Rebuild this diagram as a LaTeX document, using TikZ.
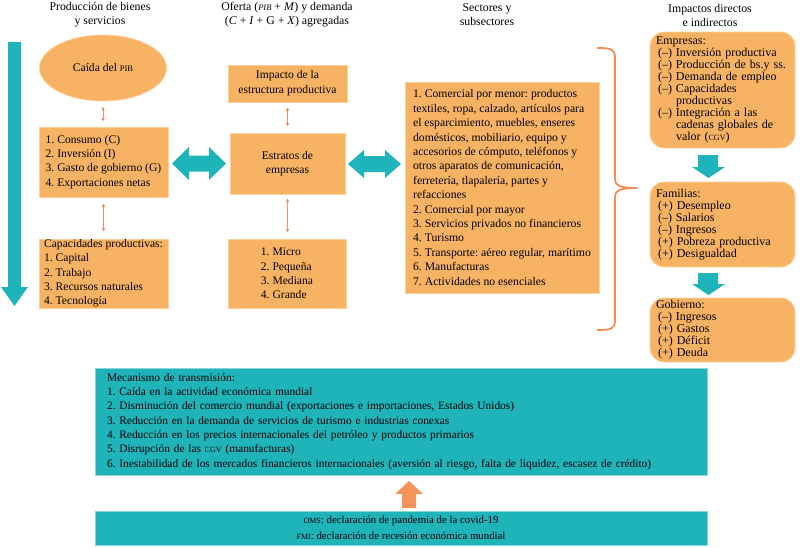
\documentclass[tikz,border=0pt]{standalone}
\usepackage{fontspec}
\setmainfont{Liberation Serif}
\usetikzlibrary{shapes.geometric,arrows.meta}
\definecolor{boxor}{HTML}{F8B264}
\definecolor{boxbd}{HTML}{FBD09A}
\definecolor{tealf}{HTML}{1FB4BA}
\definecolor{tealbd}{HTML}{8CD6D9}
\definecolor{salmon}{HTML}{EF8E62}
\definecolor{brc}{HTML}{F08C55}
\definecolor{uparr}{HTML}{F4945A}
\newcommand{\smc}[1]{{\fontsize{8.5}{8.5}\selectfont #1}}
\newcommand{\smcs}[1]{{\fontsize{8}{8}\selectfont #1}}
\frenchspacing
\begin{document}
\begin{tikzpicture}[x=1pt,y=-1pt,
  hdr/.style={align=center, inner sep=0pt, font=\fontsize{11.8}{14}\selectfont},
  obox/.style={draw=boxbd, line width=0.8pt, fill=boxor, inner sep=0pt, font=\fontsize{11.6}{14.3}\selectfont},
  rbox/.style={obox, rounded corners=14pt, align=left, minimum width=145pt, text width=133pt, font=\fontsize{12}{12}\selectfont},
  tbox/.style={draw=tealbd, line width=0.8pt, fill=tealf, inner sep=0pt},
  fat/.style={fill=tealf},
  thin/.style={salmon, line width=0.8pt, {Latex[length=3.5pt,width=3.5pt]}-{Latex[length=3.5pt,width=3.5pt]}}
]
\useasboundingbox (0,0) rectangle (800,547);

% headers
\node[hdr] (h1) at (100,15) {Producción de bienes\\y servicios};
\node[hdr] (h2) at (287,15) {Oferta (\textit{\smc{PIB}} + \textit{M}) y demanda\\(\textit{C} + \textit{I} + G + \textit{X}) agregadas};
\node[hdr] (h3) at (487,15) {Sectores y\\subsectores};
\node[hdr] (h4) at (710,15) {Impactos directos\\e indirectos};

% left teal arrow
\fill[fat] (8,42) -- (21,42) -- (21,287) -- (28,287) -- (14.5,306) -- (1,287) -- (8,287) -- cycle;

% left column
\node[obox, ellipse, minimum width=127pt, minimum height=66pt] (pib) at (103,68) {Caída del \smc{PIB}};
\node[obox, minimum width=129pt, minimum height=70pt, align=left] (dem) at (103.5,162)
  {1. Consumo (C)\\2. Inversión (I)\\3. Gasto de gobierno (G)\\4. Exportaciones netas};
\node[obox, minimum width=129pt, minimum height=69pt, align=left] (cap) at (103.5,273.5)
  {Capacidades productivas:\\1. Capital\\2. Trabajo\\3. Recursos naturales\\4. Tecnología};

% middle column
\node[obox, minimum width=119pt, minimum height=37pt, align=center, font=\fontsize{11.6}{15}\selectfont] (imp) at (287.5,83.5)
  {Impacto de la\\estructura productiva};
\node[obox, minimum width=115pt, minimum height=61pt, align=center, font=\fontsize{11.6}{14}\selectfont] (est) at (287.5,163.5)
  {Estratos de\\empresas};
\node[obox, minimum width=118pt, minimum height=69pt, align=left] (mic) at (287,273.5)
  {1. Micro\\2. Pequeña\\3. Mediana\\4. Grande};

% sectors
\node[obox, minimum width=194pt, minimum height=211pt, align=left, font=\fontsize{11.7}{14.4}\selectfont] (sec) at (502,187.5)
  {1. Comercial por menor: productos\\
   textiles, ropa, calzado, artículos para\\
   el esparcimiento, muebles, enseres\\
   domésticos, mobiliario, equipo y\\
   accesorios de cómputo, teléfonos y\\
   otros aparatos de comunicación,\\
   ferretería, tlapalería, partes y\\
   refacciones\\
   2. Comercial por mayor\\
   3. Servicios privados no financieros\\
   4. Turismo\\
   5. Transporte: aéreo regular, marítimo\\
   6. Manufacturas\\
   7. Actividades no esenciales};

% fat double arrows
\fill[fat] (172,163.5) -- (189,147) -- (189,155.5) -- (209,155.5) -- (209,147) -- (226,163.5)
  -- (209,180) -- (209,171.5) -- (189,171.5) -- (189,180) -- cycle;
\fill[fat] (348,164) -- (364,150) -- (364,156) -- (385,156) -- (385,150) -- (401,164)
  -- (385,178) -- (385,172) -- (364,172) -- (364,178) -- cycle;

% thin arrows
\draw[thin, shorten <=5pt, shorten >=5pt] (pib.south) -- (pib.south |- dem.north);
\draw[thin, shorten <=6pt, shorten >=7pt] (dem.south) -- (cap.north);
\draw[thin, shorten <=5pt, shorten >=6pt] (imp.south) -- (imp.south |- est.north);
\draw[thin, shorten <=4pt, shorten >=6pt] (est.south) -- (est.south |- mic.north);

% brace
\draw[brc, line width=1.8pt, line join=round]
  (597,48) .. controls (611,48) and (615,49) .. (615,58) -- (615,178)
  .. controls (615,185) and (618,188) .. (637,188)
  .. controls (618,188) and (615,191) .. (615,198) -- (615,320)
  .. controls (615,329) and (611,330) .. (597,330);

% right column
\node[rbox, minimum height=116pt] (emp) at (722.5,90)
  {Empresas:\\
   \hspace*{2pt}(–) Inversión productiva\\
   \hspace*{2pt}(–) Producción de bs.y ss.\\
   \hspace*{2pt}(–) Demanda de empleo\\
   \hspace*{2pt}(–) Capacidades\\
   \hspace*{2pt}\phantom{(–) }productivas\\
   \hspace*{2pt}(–) Integración a las\\
   \hspace*{2pt}\phantom{(–) }cadenas globales de\\
   \hspace*{2pt}\phantom{(–) }valor (\smcs{CGV})};
\node[rbox, minimum height=85pt] (fam) at (722.5,224.5)
  {Familias:\\
   \hspace*{2pt}(+) Desempleo\\
   \hspace*{2pt}(–) Salarios\\
   \hspace*{2pt}(–) Ingresos\\
   \hspace*{2pt}(+) Pobreza productiva\\
   \hspace*{2pt}(+) Desigualdad};
\node[rbox, minimum height=64pt] (gob) at (722.5,330)
  {Gobierno:\\
   \hspace*{2pt}(–) Ingresos\\
   \hspace*{2pt}(+) Gastos\\
   \hspace*{2pt}(+) Déficit\\
   \hspace*{2pt}(+) Deuda};
\fill[fat] (698,155) -- (718,155) -- (718,167) -- (725,167) -- (708.5,178) -- (692,167) -- (698,167) -- cycle;
\fill[fat] (698,273) -- (718,273) -- (718,284) -- (725,284) -- (708.5,295) -- (692,284) -- (698,284) -- cycle;

% bottom
\node[tbox, minimum width=612pt, minimum height=107pt, text width=588pt, align=left, font=\fontsize{11.4}{14.3}\selectfont] (mec) at (401,421.5)
  {Mecanismo de transmisión:\\
   1. Caída en la actividad económica mundial\\
   2. Disminución del comercio mundial (exportaciones e importaciones, Estados Unidos)\\
   3. Reducción en la demanda de servicios de turismo e industrias conexas\\
   4. Reducción en los precios internacionales del petróleo y productos primarios\\
   5. Disrupción de las \smcs{CGV} (manufacturas)\\
   6. Inestabilidad de los mercados financieros internacionales (aversión al riesgo, falta de liquidez, escasez de crédito)};
\fill[uparr] (402,508) -- (402,494) -- (395,494) -- (409,481) -- (423,494) -- (416,494) -- (416,508) -- cycle;
\node[tbox, minimum width=612pt, minimum height=34pt, align=center, font=\fontsize{10.8}{16}\selectfont] (oms) at (401,528)
  {\smcs{OMS}: declaración de pandemia de la covid-19\\\smcs{FMI}: declaración de recesión económica mundial};
\end{tikzpicture}
\end{document}
